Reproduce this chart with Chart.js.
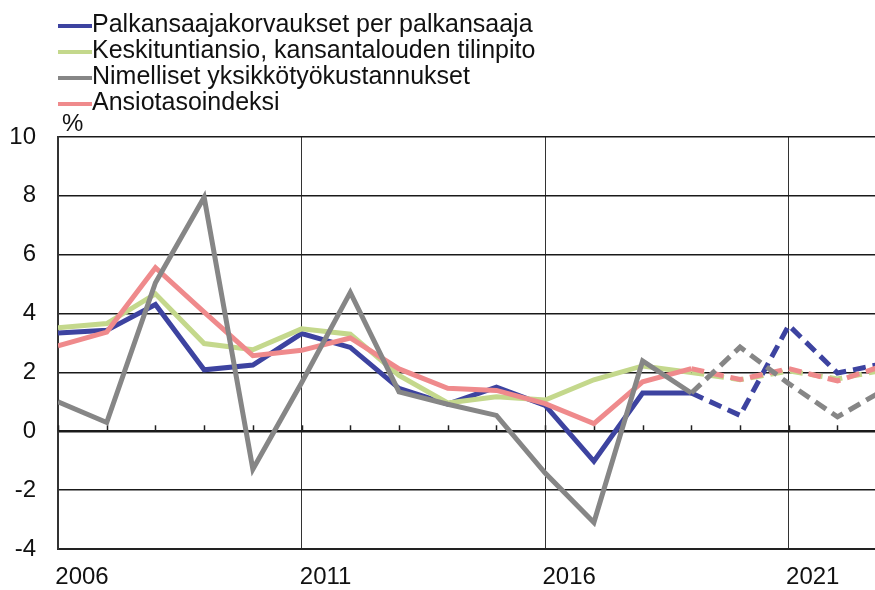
<!DOCTYPE html>
<html>
<head>
<meta charset="utf-8">
<script src="https://cdn.jsdelivr.net/npm/chart.js@4/dist/chart.umd.min.js"></script>
<style>
html,body{margin:0;padding:0;background:#ffffff;}
#wrap{width:875px;height:590px;position:relative;}
</style>
</head>
<body>
<div id="wrap"><canvas id="c" width="875" height="590"></canvas></div>
<script>
// ---- data ----
const years = [2006,2007,2008,2009,2010,2011,2012,2013,2014,2015,2016,2017,2018,2019,2020,2021,2022,2023];
const seriesLabels = [
  'Palkansaajakorvaukset per palkansaaja',
  'Keskituntiansio, kansantalouden tilinpito',
  'Nimelliset yksikkötyökustannukset',
  'Ansiotasoindeksi'
];
const palkansaajakorvaukset = [3.34,3.43,4.31,2.09,2.25,3.32,2.85,1.46,0.92,1.50,0.88,-1.02,1.30,1.30,0.54,3.60,1.98,2.32];
const keskituntiansio      = [3.52,3.66,4.67,2.98,2.77,3.48,3.30,1.90,0.96,1.17,1.06,1.75,2.22,2.00,1.75,2.05,1.78,2.10];
const yksikkotyokustannukset = [1.00,0.30,5.05,7.95,-1.29,1.65,4.72,1.34,0.92,0.54,-1.42,-3.10,2.39,1.30,2.86,1.62,0.49,1.45];
const ansiotasoindeksi     = [2.90,3.37,5.56,4.05,2.57,2.75,3.17,2.12,1.46,1.39,0.94,0.26,1.68,2.13,1.76,2.13,1.71,2.26];
const yTickValues = [-4,-2,0,2,4,6,8,10];
const xTickYears = [2006,2011,2016,2021];
const forecastStart = 2019;
const yAxisUnit = '%';

// ---- styles ----
const colors = ['#3D43A0','#C4D88C','#868686','#EF8A8C'];
const drawOrder = [3,2,0,1];
const FONT = '"Liberation Sans", Arial, Helvetica, sans-serif';
const seriesValues = [palkansaajakorvaukset, keskituntiansio, yksikkotyokustannukset, ansiotasoindeksi];

Chart.defaults.font.family = FONT;
Chart.defaults.color = '#000';

const datasets = seriesValues.map((vals, i) => ({
  label: seriesLabels[i],
  data: years.map((yr, j) => ({x: yr, y: vals[j]})),
  borderColor: colors[i],
  backgroundColor: colors[i],
  borderWidth: 5,
  pointRadius: 0,
  pointHoverRadius: 0,
  tension: 0,
  fill: false,
  order: drawOrder[i],
  borderCapStyle: 'butt',
  borderJoinStyle: 'miter',
  segment: {
    borderDash: ctx => ctx.p0.parsed.x >= forecastStart ? [13, 7] : undefined
  }
}));

const decor = {
  id: 'decor',
  beforeDatasetsDraw(chart) {
    const {ctx, scales: {x, y}} = chart;
    const y0 = y.getPixelForValue(0);
    ctx.save();
    ctx.strokeStyle = '#222';
    ctx.lineWidth = 1.5;
    for (let yr = years[0]; yr <= Math.floor(x.max); yr++) {
      const px = Math.round(x.getPixelForValue(yr)) + 0.5;
      ctx.beginPath();
      ctx.moveTo(px, y0);
      ctx.lineTo(px, y0 - 6);
      ctx.stroke();
    }
    ctx.restore();
  },
  afterDraw(chart) {
    const {ctx} = chart;
    ctx.save();
    ctx.font = '25px ' + FONT;
    ctx.textBaseline = 'alphabetic';
    ctx.textAlign = 'left';
    chart.data.datasets.forEach((ds, i) => {
      const base = 32 + i * 26;
      ctx.strokeStyle = ds.borderColor;
      ctx.lineWidth = 4;
      ctx.setLineDash([]);
      ctx.beginPath();
      ctx.moveTo(58, base - 6);
      ctx.lineTo(92, base - 6);
      ctx.stroke();
      ctx.fillStyle = '#111';
      ctx.fillText(ds.label, 92, base);
    });
    ctx.font = '24px ' + FONT;
    ctx.fillText(yAxisUnit, 62, 131);
    ctx.restore();
  }
};

new Chart(document.getElementById('c'), {
  type: 'line',
  data: {datasets},
  options: {
    responsive: false,
    animation: false,
    devicePixelRatio: 1,
    layout: {padding: {top: 137, left: 0, right: 0, bottom: 0}},
    plugins: {legend: {display: false}, tooltip: {enabled: false}},
    scales: {
      x: {
        type: 'linear',
        min: 2006,
        max: 2022.77,
        afterBuildTicks: s => { s.ticks = xTickYears.map(v => ({value: v})); },
        afterFit: s => { s.height = 41; },
        ticks: {
          font: {size: 24},
          color: '#111',
          padding: 14,
          labelOffset: 24,
          maxRotation: 0,
          autoSkip: false,
          callback: v => String(v)
        },
        grid: {
          drawTicks: false,
          color: ctx => (ctx.tick && ctx.tick.value === 2006) ? 'rgba(0,0,0,0)' : '#333',
          lineWidth: 1
        },
        border: {display: true, color: '#222', width: 2}
      },
      y: {
        type: 'linear',
        min: -4,
        max: 10,
        afterBuildTicks: s => { s.ticks = yTickValues.map(v => ({value: v})); },
        afterFit: s => { s.width = 58; },
        ticks: {
          font: {size: 24},
          color: '#111',
          padding: 22,
          callback: v => String(v)
        },
        grid: {
          drawTicks: false,
          color: '#1a1a1a',
          lineWidth: ctx => (ctx.tick && ctx.tick.value === 0) ? 2.5 : 1.5
        },
        border: {display: true, color: '#333', width: 2}
      }
    }
  },
  plugins: [decor]
});
</script>
</body>
</html>
